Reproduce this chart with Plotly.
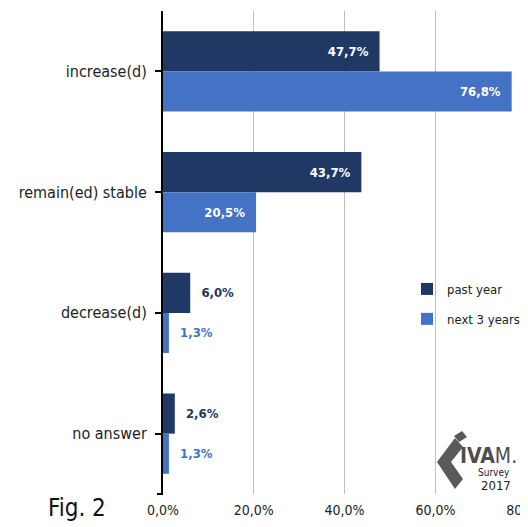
import plotly.graph_objects as go

categories = ["increase(d)", "remain(ed) stable", "decrease(d)", "no answer"]
past_year = [47.7, 43.7, 6.0, 2.6]
next_3_years = [76.8, 20.5, 1.3, 1.3]
x_ticks = [0, 20, 40, 60, 80]

NAVY = "#203864"
BLUE = "#4472C4"
FONT = "DejaVu Sans Condensed, Liberation Sans Narrow, Arial Narrow, sans-serif"
NB = "\u00a0"

def fmt(v):
    return f"{v:.1f}".replace(".", ",") + "%"

def labels(vals, thresh=10):
    return [fmt(v) + NB * 2 if v >= thresh else NB * 2 + fmt(v) for v in vals]

def positions(vals, thresh=10):
    return ["inside" if v >= thresh else "outside" for v in vals]

fig = go.Figure()
for name, vals, col, grp in [("past year", past_year, NAVY, "a"), ("next 3 years", next_3_years, BLUE, "b")]:
    fig.add_trace(go.Bar(
        name=name, y=categories, x=vals, orientation="h",
        marker=dict(color=col, line=dict(width=0)),
        text=labels(vals), textposition=positions(vals), texttemplate="%{text}",
        insidetextanchor="end", legendgroup=grp,
        insidetextfont=dict(color="white", family=FONT, size=13, weight="bold"),
        outsidetextfont=dict(color=col, family=FONT, size=13, weight="bold"),
        cliponaxis=False, hoverinfo="x+y",
    ))

# page body has an 8px margin; figure placed at (8, 8) in the window
OFF = 8
FW, FH = 528 - OFF, 527 - OFF
L, T, W, H = 163 - OFF, 11 - OFF, 528 - 163, 494 - 11

def px(xp):
    return (xp - OFF - L) / W

def py(yp):
    return (T + H - (yp - OFF)) / H

fig.update_layout(
    width=FW, height=FH,
    margin=dict(l=L, r=FW - L - W, t=T, b=FH - T - H, autoexpand=False),
    paper_bgcolor="white", plot_bgcolor="white",
    barmode="group", bargap=0.335, bargroupgap=0,
    font=dict(family=FONT, color="#222222"),
    showlegend=True,
    legend=dict(x=px(407), y=py(274), xanchor="left", yanchor="top",
                traceorder="grouped", tracegroupgap=10,
                font=dict(size=13, family=FONT, color="#222222"),
                itemwidth=30, bgcolor="rgba(0,0,0,0)"),
    xaxis=dict(range=[0, 80.4], tickvals=x_ticks, ticktext=[fmt(v) for v in x_ticks],
               showgrid=True, gridcolor="#BFBFBF", gridwidth=1, zeroline=False,
               showline=False, ticks="", automargin=False, ticklabeloverflow="allow",
               tickfont=dict(size=14, family=FONT, color="#222222"),
               ticklabelstandoff=6),
    yaxis=dict(autorange="reversed", showline=True, linecolor="black", linewidth=2,
               ticks="outside", ticklen=6, tickwidth=2, tickcolor="black", automargin=False,
               tickfont=dict(size=16, family=FONT, color="#222222"),
               ticklabelstandoff=5, showgrid=False),
)

# bottom tick of the y axis
fig.add_shape(type="line", xref="paper", yref="paper", x0=px(157), x1=0, y0=0, y1=0,
              line=dict(color="black", width=2))

fig.add_annotation(text="Fig. 2", xref="paper", yref="paper", x=px(46), y=py(508),
                   xanchor="left", yanchor="middle", showarrow=False,
                   font=dict(size=24, family=FONT, color="#111111"))

# logo
fig.add_shape(type="path", xref="paper", yref="paper",
              path=f"M {px(455)} {py(438)} L {px(437)} {py(462)} L {px(455)} {py(489)} "
                   f"L {px(463)} {py(479)} L {px(451)} {py(462)} L {px(463)} {py(447)} Z",
              fillcolor="#5a5a5a", line=dict(width=0))
fig.add_shape(type="path", xref="paper", yref="paper",
              path=f"M {px(454)} {py(436)} L {px(462)} {py(431)} L {px(467)} {py(437)} L {px(459)} {py(442)} Z",
              fillcolor="#5a5a5a", line=dict(width=0))
fig.add_annotation(text="<b>IVA</b>M.", xref="paper", yref="paper", x=px(458), y=py(456),
                   xanchor="left", yanchor="middle", showarrow=False,
                   font=dict(size=21, family=FONT, color="#4d4d4d"))
fig.add_annotation(text="Survey", xref="paper", yref="paper", x=px(512), y=py(472),
                   xanchor="right", yanchor="middle", showarrow=False,
                   font=dict(size=10, family=FONT, color="#222222"))
fig.add_annotation(text="2017", xref="paper", yref="paper", x=px(513), y=py(485),
                   xanchor="right", yanchor="middle", showarrow=False,
                   font=dict(size=13, family=FONT, color="#222222"))

fig.write_html("out.html")
